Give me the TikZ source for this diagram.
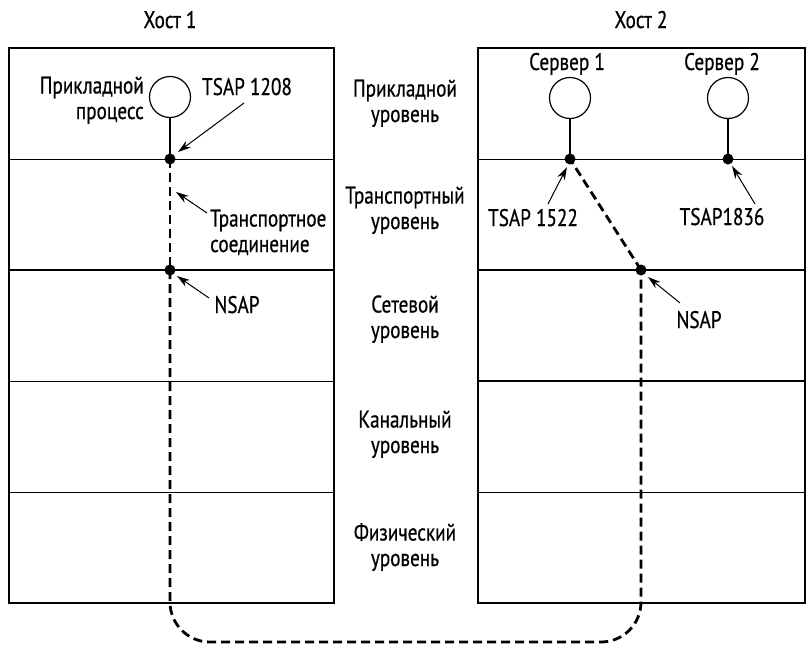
\documentclass[tikz,border=0pt]{standalone}
\usepackage{fontspec}
\setmainfont{PT Sans}[FakeStretch=0.8,FakeBold=0.6]
\usetikzlibrary{arrows.meta}
\begin{document}
\begin{tikzpicture}[x=1pt,y=-1pt,
  lbl/.style={font=\fontsize{24}{25.5}\selectfont, inner sep=0pt, anchor=base},
  mlbl/.style={lbl, align=center},
  boxline/.style={line width=1.9pt},
  thinline/.style={line width=1pt},
  thickline/.style={line width=1.9pt},
  proc/.style={circle, draw, line width=1.2pt, minimum size=41pt, inner sep=0pt},
  pdot/.style={circle, fill, minimum size=11pt, inner sep=0pt},
  stem/.style={line width=2.8pt},
  conn/.style={line width=2.8pt, dash pattern=on 9pt off 5pt},
  ptr/.style={line width=1pt, -{Stealth[length=13pt,width=8pt]}}]
\useasboundingbox (0,0) rectangle (810,654);
% host boxes
\draw[boxline] (9,48) rectangle (334,603);
\draw[thinline] (9,159) -- (334,159);
\draw[thickline] (9,270) -- (334,270);
\draw[thinline] (9,381) -- (334,381);
\draw[thinline] (9,492) -- (334,492);
\draw[boxline] (478,48) rectangle (805,603);
\draw[thinline] (478,159) -- (805,159);
\draw[thickline] (478,270) -- (805,270);
\draw[thickline] (478,381) -- (805,381);
\draw[thinline] (478,492) -- (805,492);
% titles
\node[lbl] (h1) at (170,28) {Хост 1};
\node[lbl] (h2) at (641,28) {Хост 2};
% layer labels (base anchor = last line)
\node[mlbl] (l1) at (405,122) {Прикладной\\уровень};
\node[mlbl] (l2) at (405,229) {Транспортный\\уровень};
\node[mlbl] (l3) at (405,338) {Сетевой\\уровень};
\node[mlbl] (l4) at (405,453) {Канальный\\уровень};
\node[mlbl] (l5) at (405,566) {Физический\\уровень};
% processes
\node[proc] (c1) at (170,97) {};
\node[proc] (c2) at (570,98) {};
\node[proc] (c3) at (728,98) {};
\node[pdot] (d1) at (170,159) {};
\node[pdot] (d2) at (170,270) {};
\node[pdot] (s1) at (570,159) {};
\node[pdot] (s2) at (728,159) {};
\node[pdot] (n2) at (641,270) {};
\draw[stem] (c1.south) -- (d1.center);
\draw[stem] (c2.south) -- (s1.center);
\draw[stem] (c3.south) -- (s2.center);
% transport connection
\coordinate (bl) at (170,642);
\coordinate (br) at (641,642);
\draw[conn] (d1.center) -- (d2.center);
\draw[conn, rounded corners=40pt] (d2.center) -- (bl) -- (br) -- (n2.center);
\draw[conn] (n2.center) -- (s1.center);
% labels
\node[mlbl, align=right, anchor=base east] (ap) at (144,119) {Прикладной\\процесс};
\node[lbl] (t1208) at (247,95) {TSAP 1208};
\node[mlbl, align=left, anchor=base west] (tc) at (210,252) {Транспортное\\соединение};
\node[lbl] (ns1) at (237,313) {NSAP};
\node[lbl] (sv1) at (567,70) {Сервер 1};
\node[lbl] (sv2) at (722,70) {Сервер 2};
\node[lbl] (t1522) at (533,226) {TSAP 1522};
\node[lbl] (t1836) at (722,225) {TSAP1836};
\node[lbl] (ns2) at (699,328) {NSAP};
% pointers
\coordinate (a1t) at (244,103); \coordinate (a1h) at (178,152);
\coordinate (a2t) at (207,213); \coordinate (a2h) at (176,192);
\coordinate (a3t) at (209,298); \coordinate (a3h) at (177,276);
\coordinate (a4t) at (548,204); \coordinate (a4h) at (567,167);
\coordinate (a5t) at (755,204); \coordinate (a5h) at (732,166);
\coordinate (a6t) at (680,303); \coordinate (a6h) at (648,277);
\draw[ptr] (a1t) -- (a1h);
\draw[ptr] (a2t) -- (a2h);
\draw[ptr] (a3t) -- (a3h);
\draw[ptr] (a4t) -- (a4h);
\draw[ptr] (a5t) -- (a5h);
\draw[ptr] (a6t) -- (a6h);
\end{tikzpicture}
\end{document}
